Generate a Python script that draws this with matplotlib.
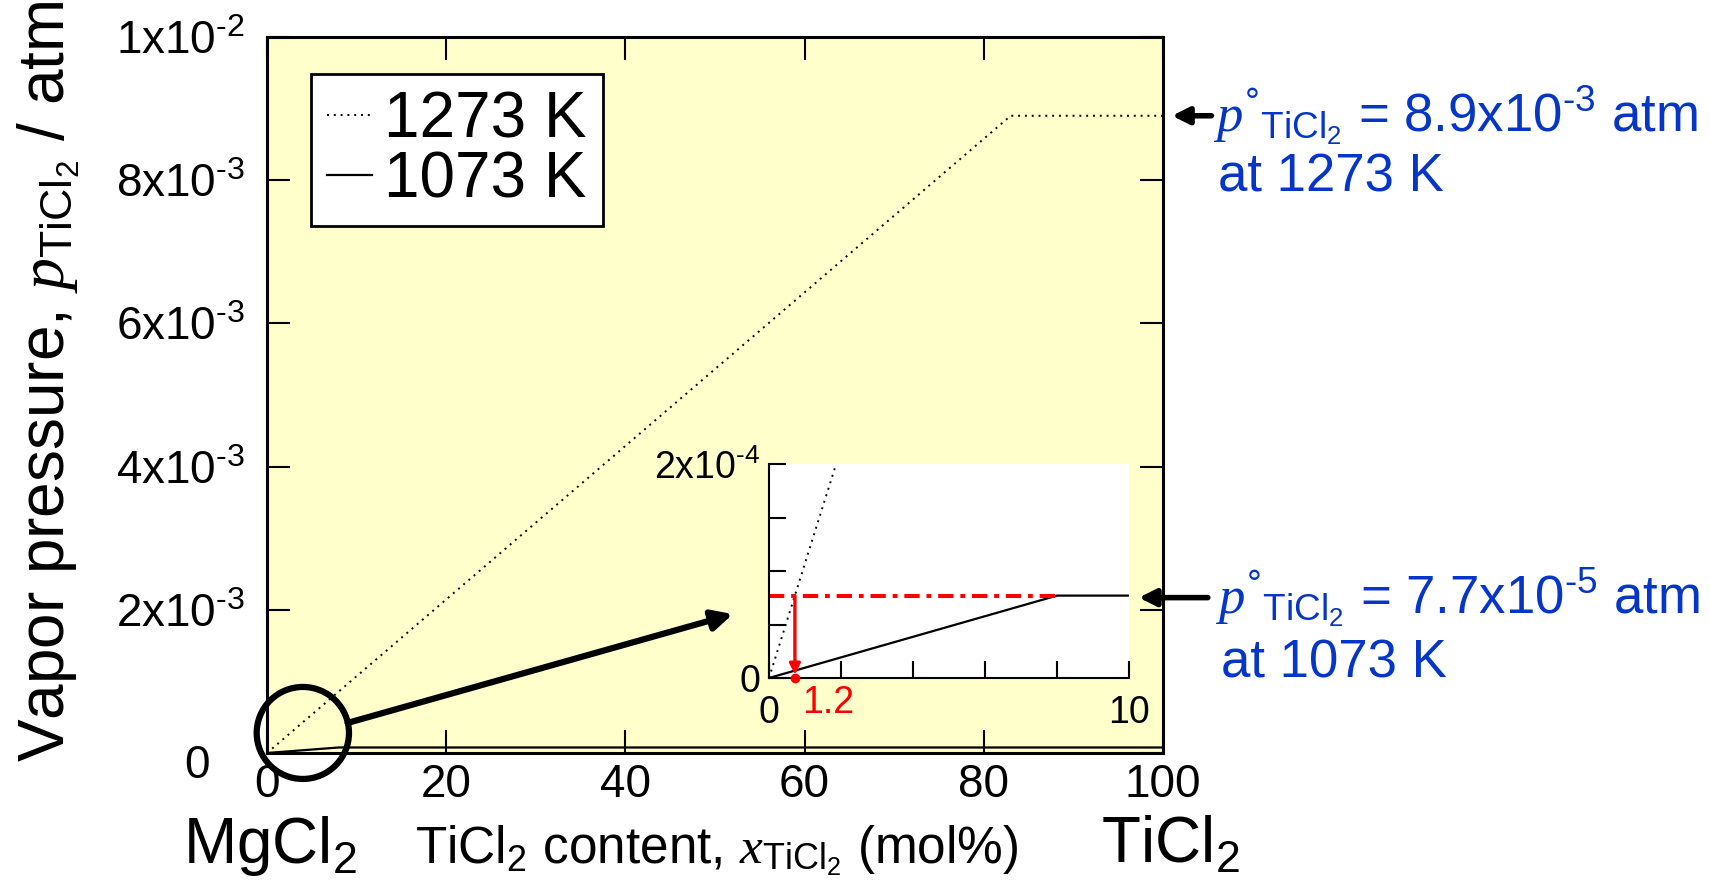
# TiCl2 vapor pressure over MgCl2-TiCl2 melts, with a zoomed inset near x = 0

import matplotlib.pyplot as plt
from matplotlib.patches import Ellipse

plt.rcParams['font.family'] = ['Liberation Sans', 'DejaVu Sans']
plt.rcParams['mathtext.fontset'] = 'custom'
plt.rcParams['mathtext.rm'] = 'Liberation Sans'
plt.rcParams['mathtext.it'] = 'Liberation Serif:italic'
plt.rcParams['mathtext.bf'] = 'Liberation Sans:bold'
plt.rcParams['mathtext.default'] = 'regular'

# ---- data ----
x_1273 = [0, 83, 100]          # mol% TiCl2
p_1273 = [0, 8.9e-3, 8.9e-3]   # atm
x_1073 = [0, 8, 100]
p_1073 = [0, 7.7e-5, 7.7e-5]
p0_1273 = 8.9e-3
p0_1073 = 7.7e-5
x_cross = 0.72                 # 1273 K line reaches p°(1073 K)
cross_label = '1.2'

main_xticks = [0, 20, 40, 60, 80, 100]
main_yticks = [0, 2e-3, 4e-3, 6e-3, 8e-3, 1e-2]
main_ylabels = ['', r'$2x10^{‐3}$', r'$4x10^{‐3}$', r'$6x10^{‐3}$',
                r'$8x10^{‐3}$', r'$1x10^{‐2}$']
ins_xticks = [0, 2, 4, 6, 8, 10]
ins_xlabels = ['0', '', '', '', '', '10']
ins_yticks = [0, 5e-5, 1e-4, 1.5e-4, 2e-4]
ins_ylabels = ['0', '', '', '', r'$2x10^{‐4}$']

BLUE = '#0536c8'
W, H = 1710, 890


def fx(px):
    return px / W


def fy(py):
    return 1 - py / H


fig = plt.figure(figsize=(17.1, 8.9), dpi=100)

# ========================================
# main axes
# ========================================
ax = fig.add_axes([fx(267), fy(753), fx(1163) - fx(267), fy(37) - fy(753)])
ax.set_facecolor('#ffffcc')
ax.plot(x_1273, p_1273, color='k', lw=1.4, linestyle=(0, (1, 2.5)), label='1273 K')
ax.plot(x_1073, p_1073, color='k', lw=1.6, label='1073 K')
ax.set_xlim(0, 100)
ax.set_ylim(0, 1e-2)
ax.set_xticks(main_xticks)
ax.set_yticks(main_yticks)
ax.set_yticklabels(main_ylabels)
for s in ax.spines.values():
    s.set_linewidth(2.2)
ax.tick_params(direction='in', length=16.5, width=1.5, top=True, right=True,
               labelsize=33)
ax.tick_params(axis='x', pad=7)
ax.tick_params(axis='y', pad=16)
ax.annotate('0', xy=(0, 0), xytext=(-41, -9), textcoords='offset points',
            fontsize=33, ha='right', va='center')

leg = ax.legend(loc='upper left', bbox_to_anchor=(0.049, 0.948), borderaxespad=0,
                fontsize=46, handlelength=0.7, handletextpad=0.2, borderpad=0.25,
                labelspacing=0.0, frameon=True, fancybox=False, edgecolor='k',
                framealpha=1)
leg.get_frame().set_linewidth(2)

# circle around the origin and the thick pointer to the inset
ax.add_patch(Ellipse((4.0, 2.8e-4), 10.3, 1.285e-3, fill=False, lw=4.5,
                     color='k', clip_on=False, zorder=5))
ax.annotate('', xy=(52.0, 1.94e-3), xytext=(9.0, 4.2e-4),
            arrowprops=dict(arrowstyle='-|>', lw=4.5, color='k', shrinkA=0,
                            shrinkB=0, mutation_scale=30),
            annotation_clip=False)

# arrows to the pure TiCl2 values
ax.annotate('', xy=(101.0, p0_1273), xytext=(105.4, p0_1273),
            arrowprops=dict(arrowstyle='-|>', lw=4, color='k', shrinkA=0,
                            shrinkB=0, mutation_scale=25),
            annotation_clip=False)
ax.annotate('', xy=(97.3, 2.17e-3), xytext=(105.0, 2.17e-3),
            arrowprops=dict(arrowstyle='-|>', lw=4, color='k', shrinkA=0,
                            shrinkB=0, mutation_scale=25),
            annotation_clip=False)

# ========================================
# inset
# ========================================
axin = fig.add_axes([fx(769), fy(678), fx(1129) - fx(769), fy(464) - fy(678)])
axin.set_facecolor('white')
axin.plot(x_1273, p_1273, color='k', lw=1.4, linestyle=(0, (1, 2.5)))
axin.plot(x_1073, p_1073, color='k', lw=1.6)
axin.plot([0, x_1073[1]], [p0_1073, p0_1073], color='red', lw=2.9,
          linestyle=(0, (3.8, 1.7, 1.2, 1.7)))
axin.annotate('', xy=(x_cross, 0.3e-5), xytext=(x_cross, p0_1073),
              arrowprops=dict(arrowstyle='-|>', lw=2.4, color='red', shrinkA=0,
                              shrinkB=0, mutation_scale=16))
axin.plot([x_cross], [0], 'o', color='red', ms=6, clip_on=False, zorder=6)
axin.annotate(cross_label, xy=(0.92, 0), xytext=(0, -25), textcoords='offset points',
              color='red', fontsize=27, ha='left', va='baseline')
axin.set_xlim(0, 10)
axin.set_ylim(0, 2e-4)
axin.set_xticks(ins_xticks)
axin.set_xticklabels(ins_xlabels)
axin.set_yticks(ins_yticks)
axin.set_yticklabels(ins_ylabels)
axin.spines['top'].set_visible(False)
axin.spines['right'].set_visible(False)
for s in ('left', 'bottom'):
    axin.spines[s].set_linewidth(1.5)
axin.tick_params(direction='in', length=12, width=1.5, labelsize=27)
axin.tick_params(axis='x', pad=12)
axin.tick_params(axis='y', pad=6.5)

# ========================================
# text outside the axes
# ========================================
fig.text(fx(49), fy(381), r'Vapor pressure, $\it{p}_{\mathrm{TiCl_2}}$ / atm',
         rotation=90, fontsize=46, ha='center', va='center')
fig.text(fx(270), fy(863), r'MgCl$_2$', fontsize=46, ha='center', va='baseline')
fig.text(fx(717), fy(863), r'TiCl$_2$ content, $\it{x}_{\mathrm{TiCl_2}}$ (mol%)',
         fontsize=37, ha='center', va='baseline')
fig.text(fx(1170), fy(863), r'TiCl$_2$', fontsize=46, ha='center', va='baseline')

fig.text(fx(1213), fy(132), r'$\it{p}^{°}{}_{\mathrm{TiCl_2}}$ = 8.9x10$^{‐3}$ atm',
         color=BLUE, fontsize=38, ha='left', va='baseline')
fig.text(fx(1218), fy(192), 'at 1273 K', color=BLUE, fontsize=38,
         ha='left', va='baseline')
fig.text(fx(1215), fy(614), r'$\it{p}^{°}{}_{\mathrm{TiCl_2}}$ = 7.7x10$^{‐5}$ atm',
         color=BLUE, fontsize=38, ha='left', va='baseline')
fig.text(fx(1221), fy(677), 'at 1073 K', color=BLUE, fontsize=38,
         ha='left', va='baseline')

fig.savefig('out.png', dpi=100)
